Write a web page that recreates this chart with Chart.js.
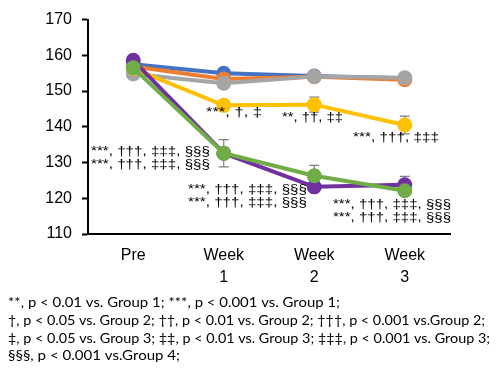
<!DOCTYPE html>
<html><head><meta charset="utf-8">
<script src="https://cdn.jsdelivr.net/npm/chart.js@4.4.1/dist/chart.umd.min.js"></script>
<style>html,body{margin:0;padding:0;background:#fff}#c{display:block}</style>
</head><body>
<canvas id="c" width="500" height="378"></canvas>
<script>
const categories = [["Pre"], ["Week", "1"], ["Week", "2"], ["Week", "3"]];
const yTicks = [110, 120, 130, 140, 150, 160, 170];
const group1 = [157.5, 155.0, 154.2, 153.6];
const group2 = [156.9, 153.4, 154.0, 153.2];
const group3 = [154.8, 152.2, 154.1, 153.7];
const group4 = [156.3, 146.0, 146.2, 140.5];
const group5 = [158.6, 132.6, 123.2, 123.8];
const group6 = [156.5, 132.6, 126.3, 122.1];
const err1 = [0, 0, 0, 0];
const err2 = [0, 0, 0, 0];
const err3 = [0, 0, 1.0, 0];
const err4 = [0, 0, 2.1, 2.5];
const err5 = [0, 0, 0, 2.3];
const err6 = [0, 3.8, 2.9, 0];
const sigShort1 = "***, †, ‡";
const sigShort2 = "**, ††, ‡‡";
const sigShort3 = "***, †††, ‡‡‡";
const sigLong = "***, †††, ‡‡‡, §§§";
const footnotes = [
  "**, p < 0.01 vs. Group 1; ***, p < 0.001 vs. Group 1;",
  "†, p < 0.05 vs. Group 2; ††, p < 0.01 vs. Group 2; †††, p < 0.001 vs.Group 2;",
  "‡, p < 0.05 vs. Group 3; ‡‡, p < 0.01 vs. Group 3; ‡‡‡, p < 0.001 vs. Group 3;",
  "§§§, p < 0.001 vs.Group 4;"
];

const colors = ["#70AD47", "#7030A0", "#FFC000", "#A5A5A5", "#ED7D31", "#4472C4"];
const series = [group6, group5, group4, group3, group2, group1];
const errs = [err6, err5, err4, err3, err2, err1];
const names = ["Group 6", "Group 5", "Group 4", "Group 3", "Group 2", "Group 1"];

const datasets = series.map((d, i) => ({
  label: names[i], data: d, borderColor: colors[i], backgroundColor: colors[i],
  pointBackgroundColor: colors[i], pointBorderColor: colors[i],
  borderWidth: 4, pointRadius: 5.5, pointHoverRadius: 5.5, tension: 0, errors: errs[i]
}));

const errorBars = {
  id: 'errorBars',
  beforeDatasetsDraw(chart) {
    const ctx = chart.ctx, y = chart.scales.y;
    ctx.save();
    ctx.strokeStyle = '#7f7f7f'; ctx.lineWidth = 1.2;
    chart.data.datasets.forEach((ds, di) => {
      const meta = chart.getDatasetMeta(di);
      ds.errors.forEach((e, i) => {
        if (!e) return;
        const px = meta.data[i].x;
        const top = y.getPixelForValue(ds.data[i] + e);
        const bot = y.getPixelForValue(ds.data[i] - e);
        ctx.beginPath();
        ctx.moveTo(px, top); ctx.lineTo(px, bot);
        ctx.moveTo(px - 5, top); ctx.lineTo(px + 5, top);
        ctx.moveTo(px - 5, bot); ctx.lineTo(px + 5, bot);
        ctx.stroke();
      });
    });
    ctx.restore();
  }
};

function fitText(ctx, txt, x, y, w) {
  const m = ctx.measureText(txt).width;
  ctx.save();
  ctx.translate(x, y);
  ctx.scale(w / m, 1);
  ctx.fillText(txt, 0, 0);
  ctx.restore();
}

const annotations = {
  id: 'annotations',
  afterDraw(chart) {
    const ctx = chart.ctx;
    ctx.save();
    ctx.fillStyle = '#000';
    ctx.textBaseline = 'middle';
    ctx.textAlign = 'left';
    ctx.font = '12px "Liberation Sans", Arial, sans-serif';
    fitText(ctx, sigShort1, 206, 113, 56);
    fitText(ctx, sigShort2, 282, 118, 61);
    fitText(ctx, sigShort3, 353, 138, 86);
    fitText(ctx, sigLong, 91, 152, 119);
    fitText(ctx, sigLong, 91, 165, 119);
    fitText(ctx, sigLong, 188, 190, 119);
    fitText(ctx, sigLong, 188, 203, 119);
    fitText(ctx, sigLong, 333, 205, 118);
    fitText(ctx, sigLong, 333, 218, 118);
    ctx.font = '13px Lato, "Open Sans", sans-serif';
    const widths = [332, 477, 482, 172];
    const ys = [303, 321, 339, 356];
    footnotes.forEach((t, i) => fitText(ctx, t, 8, ys[i], widths[i]));
    ctx.restore();
  }
};

new Chart(document.getElementById('c'), {
  type: 'line',
  data: { labels: categories, datasets },
  options: {
    responsive: false, animation: false,
    layout: { padding: { top: 11, right: 50, bottom: 92, left: 0 } },
    plugins: { legend: { display: false }, tooltip: { enabled: false } },
    scales: {
      x: {
        offset: true,
        grid: { display: false, drawTicks: false },
        border: { display: true, color: '#000', width: 2 },
        ticks: { color: '#000', font: { size: 16, family: '"Liberation Sans", Arial, sans-serif', lineHeight: 1.4 }, padding: 10, maxRotation: 0, autoSkip: false },
        afterFit(s) { s.height = 378 - 234 - 92; }
      },
      y: {
        min: 110, max: 170,
        afterBuildTicks(s) { s.ticks = yTicks.map(v => ({ value: v })); },
        grid: { drawOnChartArea: false, drawTicks: true, tickLength: 6, color: '#000', tickWidth: 2 },
        border: { display: true, color: '#000', width: 2 },
        ticks: { color: '#000', font: { size: 16, family: '"Liberation Sans", Arial, sans-serif' }, padding: 10 },
        afterFit(s) { s.width = 88; }
      }
    }
  },
  plugins: [errorBars, annotations]
});
</script>
</body></html>
